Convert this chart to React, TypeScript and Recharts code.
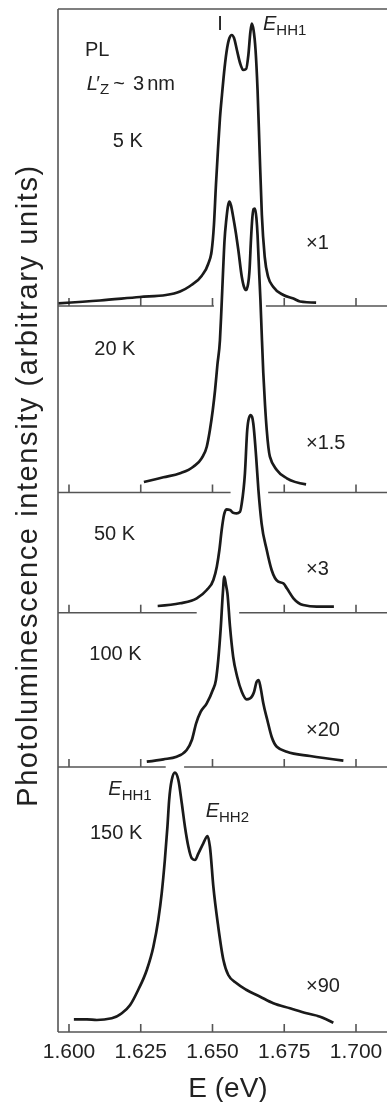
import React from 'react';
import { ComposedChart, Line, XAxis, YAxis, ReferenceLine, ReferenceDot, Label } from 'recharts';

const FONT = '"Liberation Sans", Arial, Helvetica, sans-serif';
const INK = '#1a1a1a';
const AXIS = '#555555';
const TEXT = '#222222';

const energyTicks = [1.6, 1.625, 1.65, 1.675, 1.7];
const energyDomain: [number, number] = [1.59617, 1.7108];
const stackDomain: [number, number] = [0, 1023];

// stacked baselines of the panels (arbitrary units), top panel first
const panelBaselines = [726, 539.5, 419.3, 265, 0];
const temperatureLabels = ['5 K', '20 K', '50 K', '100 K', '150 K'];
const scaleFactors = ['×1', '×1.5', '×3', '×20', '×90'];
// breaks in the separator lines where the lower spectrum passes (eV)
const gapStart = [1.6505, 1.6563, 1.6445, 1.6337];
const gapEnd = [1.6686, 1.6694, 1.6593, 1.6401];

// spectra: photon energy (eV) and intensity above the panel baseline
const energy5K = [1.5962, 1.6108, 1.6247, 1.6338, 1.6387, 1.6422, 1.6462, 1.6485, 1.6497, 1.6505, 1.6512, 1.6519, 1.6526, 1.6533, 1.6542, 1.6551, 1.6559, 1.6567, 1.6575, 1.6585, 1.6596, 1.6607, 1.6617, 1.6625, 1.6632, 1.6637, 1.6643, 1.665, 1.6657, 1.6664, 1.6672, 1.6682, 1.6694, 1.6712, 1.6747, 1.6782, 1.6805, 1.6861];
const intensity5K = [2.7, 5.5, 9, 11, 14.5, 20, 30, 42, 55, 81, 121, 156, 188, 211, 238, 258, 268, 271, 268, 256, 243, 236, 237, 251, 274, 282.5, 276, 256, 216, 156, 91, 49, 29, 19, 11, 7.5, 4.5, 3.3];

const energy20K = [1.6261, 1.6329, 1.6387, 1.6433, 1.6462, 1.648, 1.6491, 1.6501, 1.6509, 1.6517, 1.6526, 1.6531, 1.6537, 1.6542, 1.6548, 1.6554, 1.6559, 1.6564, 1.6572, 1.6582, 1.659, 1.6602, 1.661, 1.6617, 1.6624, 1.6629, 1.6634, 1.6639, 1.6643, 1.6648, 1.6653, 1.6657, 1.666, 1.6663, 1.6667, 1.6671, 1.6677, 1.6683, 1.6689, 1.67, 1.6724, 1.6759, 1.6826];
const intensity20K = [10.5, 15.2, 19.2, 25.8, 34.2, 45.8, 62.5, 82.5, 102.5, 127.5, 152.5, 182.5, 222.5, 252.5, 272.5, 286.5, 290.8, 287.5, 275.8, 258.5, 242.5, 215.8, 205.5, 202.5, 208.5, 222.5, 252.5, 275.5, 283.5, 284, 274.5, 257.5, 237.5, 217.5, 192.5, 162.5, 119.5, 87.5, 62.5, 35.8, 22.5, 14.2, 8.2];

const energy50K = [1.6309, 1.6387, 1.6445, 1.648, 1.6503, 1.6515, 1.6524, 1.6532, 1.654, 1.6549, 1.6561, 1.6572, 1.6584, 1.6596, 1.6602, 1.6613, 1.6621, 1.6627, 1.6633, 1.6638, 1.6642, 1.6652, 1.666, 1.6671, 1.6689, 1.6706, 1.6729, 1.6747, 1.6759, 1.6782, 1.6816, 1.6863, 1.6923];
const intensity50K = [6.7, 9.4, 14.4, 22.7, 32.7, 46, 62.7, 82.7, 97.7, 103.4, 102.7, 100, 99.4, 101, 109.4, 139.4, 182.7, 194.7, 197.7, 195.7, 189.4, 156, 122.7, 89.4, 62.7, 42.7, 31, 29.4, 24.4, 14.4, 7.7, 6, 6];

const energy100K = [1.6271, 1.6329, 1.6375, 1.641, 1.6428, 1.6443, 1.6459, 1.648, 1.6501, 1.6512, 1.652, 1.6529, 1.6536, 1.6541, 1.6547, 1.6552, 1.6561, 1.6572, 1.6586, 1.6602, 1.6619, 1.6631, 1.6645, 1.6654, 1.6661, 1.6668, 1.6677, 1.6691, 1.6706, 1.6724, 1.6759, 1.684, 1.6956];
const intensity100K = [5.3, 7.7, 10.3, 17, 27, 43.7, 55.3, 63.7, 77, 87, 107, 140.3, 173.7, 190.3, 182, 173.7, 140.3, 110.3, 90.3, 75.3, 67.7, 68.7, 75.3, 85.3, 87, 78.7, 63.7, 47, 30.3, 20.3, 15.3, 11, 6.3];

const energy150K = [1.6017, 1.6062, 1.6097, 1.6149, 1.6184, 1.6213, 1.6241, 1.6271, 1.6294, 1.6311, 1.6323, 1.6334, 1.6343, 1.6349, 1.6358, 1.6369, 1.6381, 1.6393, 1.6404, 1.6416, 1.6428, 1.6439, 1.6451, 1.6468, 1.6483, 1.6491, 1.6503, 1.652, 1.6538, 1.6555, 1.6584, 1.6619, 1.6666, 1.6712, 1.677, 1.6828, 1.6875, 1.6921];
const intensity150K = [12.7, 12.7, 12, 13.7, 18.7, 27, 42, 62, 85.3, 112, 138.7, 172, 205.3, 232, 252, 259.3, 252, 228.7, 205.3, 185.3, 173.7, 172, 178.7, 188.7, 196, 185.3, 145.3, 105.3, 72, 57, 48.7, 42, 35.3, 28.7, 23.7, 18.7, 15.3, 9.3];

// annotation anchors (eV, stacked units)
const temperatureLabelX = [1.61523, 1.60882, 1.60871, 1.60707, 1.60732];
const temperatureLabelY = [885, 677, 492, 372, 193];
const scaleLabelX = 1.68258;
const scaleLabelY = [783, 583.5, 457, 296.5, 40];

const spectra = [
  { e: energy5K, i: intensity5K },
  { e: energy20K, i: intensity20K },
  { e: energy50K, i: intensity50K },
  { e: energy100K, i: intensity100K },
  { e: energy150K, i: intensity150K },
];
const series = spectra.map((s, k) => s.e.map((x, j) => ({ x, y: panelBaselines[k] + s.i[j] })));

const separators = panelBaselines.slice(0, 4).flatMap((lvl, k) => [
  [{ x: energyDomain[0], y: lvl }, { x: gapStart[k], y: lvl }],
  [{ x: gapEnd[k], y: lvl }, { x: energyDomain[1], y: lvl }],
]);
const innerTicks = panelBaselines.slice(0, 4).flatMap((lvl, k) =>
  energyTicks
    .filter((t) => t < gapStart[k] || t > gapEnd[k])
    .map((t) => [{ x: t, y: lvl }, { x: t, y: lvl + 8 }])
);

const txt = { fontFamily: FONT, fill: TEXT } as const;

const plain = (s: string, size = 20) => (p: any) => (
  <text x={p.cx} y={p.cy} fontSize={size} {...txt}>{s}</text>
);
const subE = (sub: string) => (p: any) => (
  <text x={p.cx} y={p.cy} fontSize={20} {...txt}>
    <tspan fontStyle="italic">E</tspan>
    <tspan fontSize={15} dy={5}>{sub}</tspan>
  </text>
);
const lzLabel = (p: any) => (
  <text x={p.cx} y={p.cy} fontSize={20} {...txt}>
    <tspan fontStyle="italic">L</tspan>
    <tspan x={p.cx + 9.5}>′</tspan>
    <tspan x={p.cx + 13.3} dy={4} fontSize={15}>Z</tspan>
    <tspan x={p.cx + 26.5} dy={-4}>~</tspan>
    <tspan x={p.cx + 46.3}>3</tspan>
    <tspan x={p.cx + 60.5}>nm</tspan>
  </text>
);
const peakI = (p: any) => (
  <text x={p.cx} y={p.cy} fontSize={20} textAnchor="middle" {...txt}>I</text>
);

const yTitle = (p: any) => {
  const vb = p.viewBox || { x: 8, y: 9 };
  const cx = vb.x + 29;
  const cy = vb.y + 476.5;
  return (
    <text x={cx} y={cy} transform={`rotate(-90 ${cx} ${cy})`} textAnchor="middle" fontSize={29} letterSpacing={1.6} {...txt}>
      Photoluminescence intensity (arbitrary units)
    </text>
  );
};
const xTitle = (p: any) => {
  const vb = p.viewBox || { x: 58, y: 1032 };
  return (
    <text x={vb.x + 170} y={vb.y + 64.5} textAnchor="middle" fontSize={28} {...txt}>
      E (eV)
    </text>
  );
};

export default function App() {
  return (
    <div style={{ position: 'fixed', left: 0, top: 0, width: 387, height: 1102 }}>
      <style>{'html,body{overflow:hidden;margin:0;}'}</style>
      <ComposedChart width={387} height={1102} margin={{ top: 9, right: 0, bottom: 0, left: 8 }}>
        <XAxis
          type="number"
          dataKey="x"
          domain={energyDomain}
          allowDataOverflow
          ticks={energyTicks}
          tickFormatter={(v: number) => v.toFixed(3)}
          tickSize={-8}
          tickMargin={19}
          tick={{ fontSize: 21, fill: TEXT, fontFamily: FONT }}
          axisLine={{ stroke: AXIS, strokeWidth: 1.6 }}
          tickLine={{ stroke: AXIS, strokeWidth: 1.6 }}
          height={70}
        >
          <Label content={xTitle} />
        </XAxis>
        <YAxis
          type="number"
          domain={stackDomain}
          allowDataOverflow
          tick={false}
          tickLine={false}
          axisLine={{ stroke: AXIS, strokeWidth: 1.6 }}
          width={50}
        >
          <Label content={yTitle} />
        </YAxis>

        <ReferenceLine y={stackDomain[1]} stroke={AXIS} strokeWidth={1.6} ifOverflow="visible" />
        {separators.map((seg, i) => (
          <ReferenceLine key={`s${i}`} segment={seg} stroke={AXIS} strokeWidth={1.6} ifOverflow="visible" />
        ))}
        {innerTicks.map((seg, i) => (
          <ReferenceLine key={`t${i}`} segment={seg} stroke={AXIS} strokeWidth={1.6} ifOverflow="visible" />
        ))}

        {series.map((d, k) => (
          <Line
            key={temperatureLabels[k]}
            data={d}
            dataKey="y"
            type="monotone"
            stroke={INK}
            strokeWidth={2.7}
            dot={false}
            activeDot={false}
            isAnimationActive={false}
          />
        ))}

        {temperatureLabels.map((t, k) => (
          <ReferenceDot key={`T${k}`} x={temperatureLabelX[k]} y={temperatureLabelY[k]} r={0} ifOverflow="visible" shape={plain(t)} />
        ))}
        {scaleFactors.map((t, k) => (
          <ReferenceDot key={`F${k}`} x={scaleLabelX} y={scaleLabelY[k]} r={0} ifOverflow="visible" shape={plain(t)} />
        ))}
        <ReferenceDot x={1.60557} y={976.5} r={0} ifOverflow="visible" shape={plain('PL')} />
        <ReferenceDot x={1.60617} y={942.5} r={0} ifOverflow="visible" shape={lzLabel} />
        <ReferenceDot x={1.65261} y={1002} r={0} ifOverflow="visible" shape={peakI} />
        <ReferenceDot x={1.6676} y={1002} r={0} ifOverflow="visible" shape={subE('HH1')} />
        <ReferenceDot x={1.61369} y={237} r={0} ifOverflow="visible" shape={subE('HH1')} />
        <ReferenceDot x={1.64763} y={215} r={0} ifOverflow="visible" shape={subE('HH2')} />
      </ComposedChart>
    </div>
  );
}
